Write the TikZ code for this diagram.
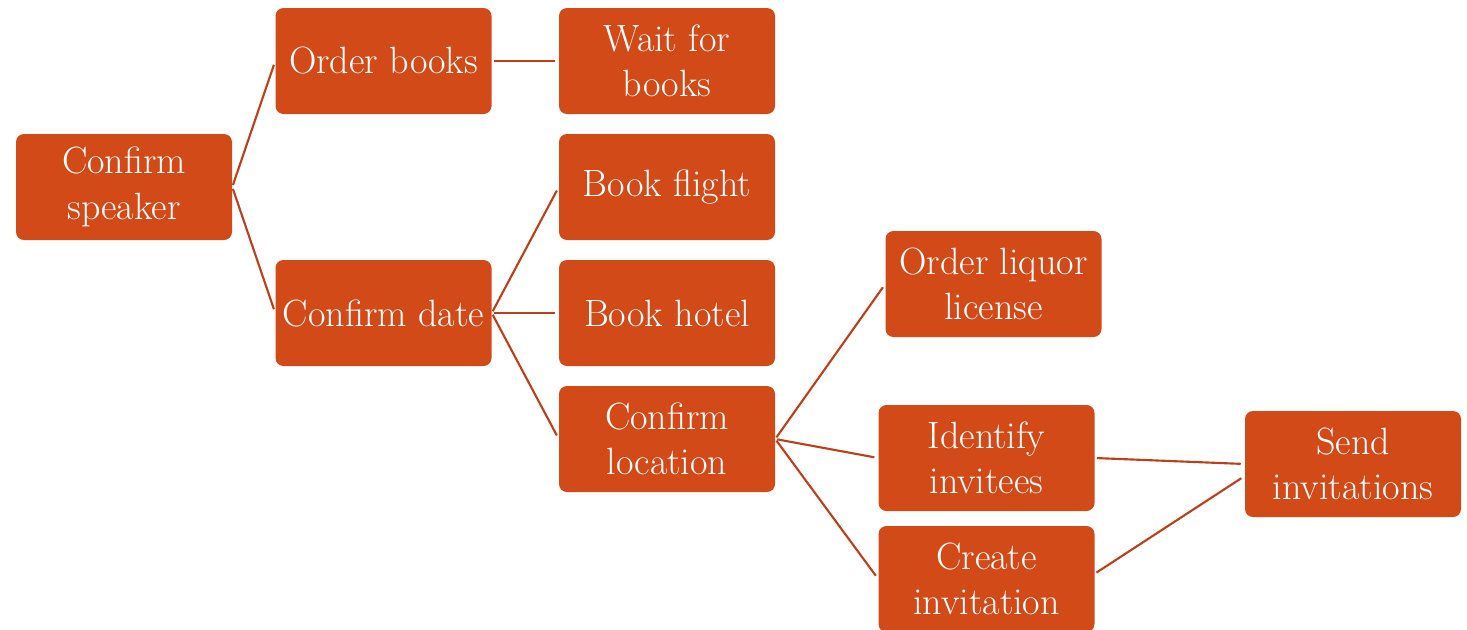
\documentclass[tikz,border=0pt]{standalone}
\usetikzlibrary{positioning}
\definecolor{boxfill}{HTML}{D24A18}
\definecolor{linecol}{HTML}{BF3F1A}
\tikzset{
  task/.style={draw=none, fill=boxfill, rounded corners=6pt, minimum width=162pt,
    minimum height=79.5pt, inner sep=0pt, align=center, text=white,
    font=\fontsize{28.5}{34}\selectfont},
  conn/.style={draw=linecol, line width=1.6pt, shorten <=1.5pt, shorten >=3pt}
}
\begin{document}
\begin{tikzpicture}[x=0.75pt,y=-0.75pt]
\useasboundingbox (0,0) rectangle (1467,629);
\node[task] (cs) at (124,187) {Confirm\\speaker};
\node[task] (ob) at (383.5,61) {Order books};
\node[task] (wb) at (667,61) {Wait for\\books};
\node[task] (bf) at (667,187) {Book flight};
\node[task] (cd) at (383.5,313) {Confirm date};
\node[task] (bh) at (667,313) {Book hotel};
\node[task] (cl) at (667,439) {Confirm\\location};
\node[task] (ol) at (993.5,284) {Order liquor\\license};
\node[task] (ii) at (986.5,458) {Identify\\invitees};
\node[task] (ci) at (986.5,579) {Create\\invitation};
\node[task] (si) at (1353,464) {Send\\invitations};
\draw[conn] (cs.east) -- (ob.west);
\draw[conn] (cs.east) -- (cd.west);
\draw[conn] (ob.east) -- (wb.west);
\draw[conn] (cd.east) -- (bf.west);
\draw[conn] (cd.east) -- (bh.west);
\draw[conn] (cd.east) -- (cl.west);
\draw[conn] (cl.east) -- (ol.west);
\draw[conn] (cl.east) -- (ii.west);
\draw[conn] (cl.east) -- (ci.west);
\draw[conn] (ii.east) -- (si.west);
\draw[conn] ([yshift=4pt]ci.east) -- ([yshift=-9pt]si.west);
\end{tikzpicture}
\end{document}
